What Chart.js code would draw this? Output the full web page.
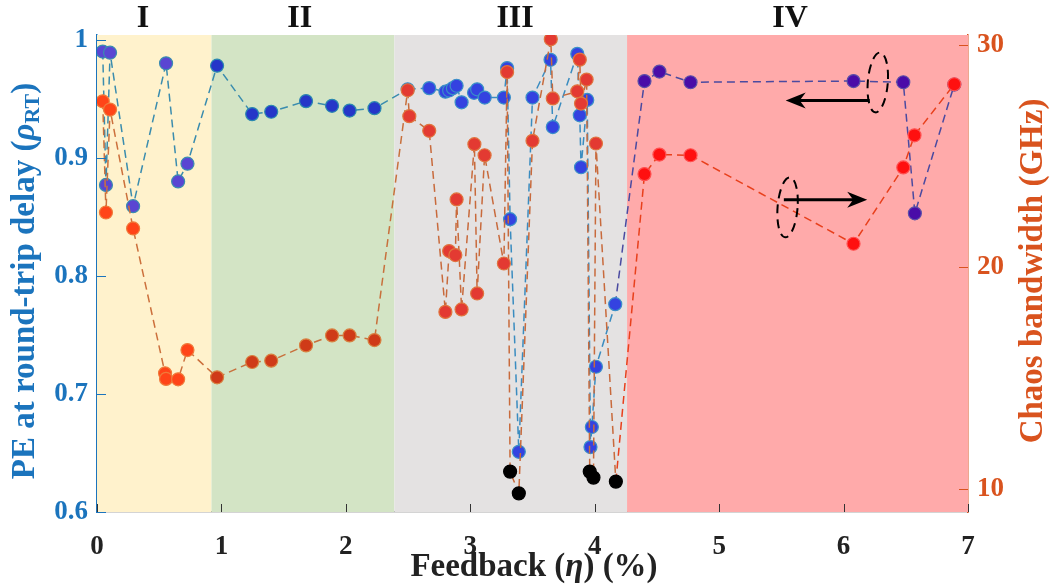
<!DOCTYPE html>
<html>
<head>
<meta charset="utf-8">
<script src="https://cdn.jsdelivr.net/npm/chart.js@4"></script>
<style>
  html, body { margin: 0; padding: 0; background: #fff; }
  #wrap { width: 1051px; height: 585px; }
</style>
</head>
<body>
<div id="wrap"><canvas id="myChart" width="1051" height="585"></canvas></div>
<script>
// feedback regions
const regionBounds = [0, 0.92, 2.39, 4.26, 7];
const regionLabels = ["I", "II", "III", "IV"];
const regionLabelX = [0.37, 1.63, 3.36, 5.57];

// PE at round-trip delay (left axis)
const peX = [0.046, 0.072, 0.105, 0.29, 0.555, 0.652, 0.727, 0.965, 1.247, 1.40, 1.68, 1.889, 2.03, 2.23,
  2.497, 2.67, 2.80, 2.83, 2.86, 2.89, 2.93, 3.03, 3.055, 3.116, 3.27, 3.296, 3.32, 3.39, 3.50, 3.645, 3.663,
  3.86, 3.88, 3.89, 3.94, 3.966, 3.977, 4.01, 4.165, 4.40, 4.52, 4.77, 6.08, 6.48, 6.573, 6.89];
const peY = [0.990, 0.877, 0.989, 0.859, 0.980, 0.880, 0.895, 0.978, 0.937, 0.939, 0.948, 0.944, 0.940, 0.942,
  0.958, 0.959, 0.956, 0.957, 0.959, 0.961, 0.947, 0.955, 0.958, 0.951, 0.951, 0.976, 0.848, 0.651, 0.951, 0.983, 0.926,
  0.988, 0.936, 0.892, 0.949, 0.655, 0.672, 0.723, 0.776, 0.965, 0.973, 0.964, 0.965, 0.964, 0.853, 0.962];

// chaos bandwidth in GHz (right axis)
const bwX = [0.046, 0.072, 0.105, 0.29, 0.547, 0.555, 0.652, 0.727, 0.965, 1.247, 1.40, 1.68, 1.889, 2.03, 2.23,
  2.497, 2.51, 2.67, 2.80, 2.83, 2.88, 2.89, 2.93, 3.033, 3.055, 3.115, 3.27, 3.296, 3.32, 3.39,
  3.50, 3.647, 3.663, 3.86, 3.88, 3.89, 3.935, 3.96, 3.99, 4.01, 4.17, 4.40, 4.52, 4.77, 6.08, 6.48, 6.57, 6.89];
const bwY = [27.46, 22.45, 27.09, 21.73, 15.2, 14.95, 14.93, 16.25, 15.02, 15.71, 15.77, 16.46, 16.91, 16.91, 16.70,
  27.96, 26.79, 26.13, 17.97, 20.71, 20.53, 23.04, 18.08, 25.53, 18.8, 25.03, 20.15, 28.78, 10.77, 9.79,
  25.68, 30.26, 27.59, 27.91, 29.34, 27.36, 28.44, 10.77, 10.5, 25.56, 10.32, 24.18, 25.06, 25.03, 21.04, 24.48, 25.93, 28.23];

const xTicks = [0, 1, 2, 3, 4, 5, 6, 7];
const leftTicks = [0.6, 0.7, 0.8, 0.9, 1];
const rightTicks = [10, 20, 30];

const serif = "'Liberation Serif', 'Times New Roman', serif";
const blueAxis = "#1b74bd";
const redAxis = "#d9531e";

const regionFill = ["#fff2cc", "#d3e4c5", "#e4e2e2", "#ffaaaa"];
const peFill = ["#5a46d2", "#2536c8", "#3442e0", "#4a0ca8"];
const peEdge = ["#3a8cb0", "#2a88b0", "#3a90c8", "#5a50a8"];
const peLine = ["#3a8cae", "#3a8cae", "#3a8cc0", "#4a4aa0"];
const bwFill = ["#ff4418", "#cf3a18", "#e33a32", "#ff1010"];
const bwEdge = ["#f07a3a", "#d88040", "#e0743e", "#ff5050"];
const bwLine = ["#cc703c", "#c8703c", "#c86a3c", "#e8401c"];

function regionOf(x) {
  for (let i = 0; i < regionLabels.length; i++) {
    if (x < regionBounds[i + 1]) return i;
  }
  return regionLabels.length - 1;
}

const pePoints = peX.map((x, i) => ({ x: x, y: peY[i] }));
const bwPoints = bwX.map((x, i) => ({ x: x, y: bwY[i] }));

const backdrop = {
  id: 'backdrop',
  beforeDatasetsDraw(chart) {
    const { ctx, chartArea, scales } = chart;
    ctx.save();
    for (let i = 0; i < regionLabels.length; i++) {
      const a = scales.x.getPixelForValue(regionBounds[i]);
      const b = scales.x.getPixelForValue(regionBounds[i + 1]);
      ctx.fillStyle = regionFill[i];
      ctx.fillRect(a, chartArea.top, b - a, chartArea.bottom - chartArea.top);
      ctx.fillStyle = "#111";
      ctx.font = "bold 32px " + serif;
      ctx.textAlign = "center";
      ctx.textBaseline = "middle";
      ctx.fillText(regionLabels[i], scales.x.getPixelForValue(regionLabelX[i]), 19);
    }
    ctx.restore();
  },
  afterDraw(chart) {
    const { ctx, chartArea, scales } = chart;
    const x = scales.x, yl = scales.y, yr = scales.y2;
    ctx.save();
    // inner tick marks
    ctx.lineWidth = 1;
    ctx.strokeStyle = "#333";
    xTicks.forEach(t => {
      const px = Math.round(x.getPixelForValue(t)) + 0.5;
      ctx.beginPath(); ctx.moveTo(px, chartArea.bottom); ctx.lineTo(px, chartArea.bottom - 8); ctx.stroke();
    });
    ctx.strokeStyle = blueAxis;
    leftTicks.forEach(t => {
      const py = Math.round(yl.getPixelForValue(t)) + 0.5;
      ctx.beginPath(); ctx.moveTo(chartArea.left, py); ctx.lineTo(chartArea.left + 9, py); ctx.stroke();
    });
    ctx.strokeStyle = redAxis;
    rightTicks.forEach(t => {
      const py = Math.round(yr.getPixelForValue(t)) + 0.5;
      ctx.beginPath(); ctx.moveTo(chartArea.right, py); ctx.lineTo(chartArea.right - 9, py); ctx.stroke();
    });

    // arrows and dashed ellipses
    function arrow(x0, x1, yv) {
      const py = yl.getPixelForValue(yv);
      const a = x.getPixelForValue(x0), b = x.getPixelForValue(x1);
      const dir = b > a ? 1 : -1;
      ctx.strokeStyle = "#000";
      ctx.fillStyle = "#000";
      ctx.lineWidth = 3;
      ctx.beginPath(); ctx.moveTo(a, py); ctx.lineTo(b - dir * 12, py); ctx.stroke();
      ctx.beginPath();
      ctx.moveTo(b, py);
      ctx.lineTo(b - dir * 20, py - 8);
      ctx.lineTo(b - dir * 14, py);
      ctx.lineTo(b - dir * 20, py + 8);
      ctx.closePath();
      ctx.fill();
    }
    function ring(xv, yv) {
      ctx.strokeStyle = "#000";
      ctx.lineWidth = 2;
      ctx.setLineDash([9, 6]);
      ctx.beginPath();
      ctx.ellipse(x.getPixelForValue(xv), yl.getPixelForValue(yv), 10, 30, 0.08, 0, Math.PI * 2);
      ctx.stroke();
      ctx.setLineDash([]);
    }
    ring(6.275, 0.9638);
    arrow(6.21, 5.535, 0.9486);
    ring(5.55, 0.858);
    arrow(5.52, 6.19, 0.8644);

    // axis titles
    ctx.fillStyle = blueAxis;
    ctx.textBaseline = "middle";
    ctx.save();
    ctx.translate(25, 281);
    ctx.rotate(-Math.PI / 2);
    const main = "PE at round-trip delay (";
    ctx.font = "bold 33px " + serif;
    const w1 = ctx.measureText(main).width;
    ctx.font = "italic bold 33px " + serif;
    const w2 = ctx.measureText("\u03c1").width;
    ctx.font = "bold 22px " + serif;
    const w3 = ctx.measureText("RT").width;
    ctx.font = "bold 33px " + serif;
    const w4 = ctx.measureText(")").width;
    let cx = -(w1 + w2 + w3 + w4) / 2;
    ctx.textAlign = "left";
    ctx.fillText(main, cx, 0); cx += w1;
    ctx.font = "italic bold 33px " + serif;
    ctx.fillText("\u03c1", cx, 0); cx += w2;
    ctx.font = "bold 22px " + serif;
    ctx.fillText("RT", cx, 8); cx += w3;
    ctx.font = "bold 33px " + serif;
    ctx.fillText(")", cx, 0);
    ctx.restore();

    ctx.save();
    ctx.fillStyle = redAxis;
    ctx.translate(1033, 271);
    ctx.rotate(-Math.PI / 2);
    ctx.font = "bold 33px " + serif;
    ctx.textAlign = "center";
    ctx.fillText("Chaos bandwidth (GHz)", 0, 0);
    ctx.restore();

    ctx.fillStyle = "#222";
    const parts = [["Feedback (", "bold 33px "], ["\u03b7", "italic bold 33px "], [") (%)", "bold 33px "]];
    let tw = 0;
    parts.forEach(p => { ctx.font = p[1] + serif; tw += ctx.measureText(p[0]).width; });
    let sx = 534 - tw / 2;
    ctx.textAlign = "left";
    parts.forEach(p => {
      ctx.font = p[1] + serif;
      ctx.fillText(p[0], sx, 567);
      sx += ctx.measureText(p[0]).width;
    });
    ctx.restore();
  }
};

const ctxEl = document.getElementById('myChart');
new Chart(ctxEl, {
  type: 'line',
  data: {
    datasets: [
      {
        label: "Chaos bandwidth",
        data: bwPoints,
        yAxisID: 'y2',
        borderWidth: 1.5,
        borderDash: [8, 5],
        pointRadius: 6.5,
        pointBorderWidth: 1.2,
        pointBackgroundColor: ctx => {
          const p = ctx.raw;
          if (!p) return "#000";
          return p.y < 12 ? "#000" : bwFill[regionOf(p.x)];
        },
        pointBorderColor: ctx => {
          const p = ctx.raw;
          if (!p) return "#000";
          return p.y < 12 ? "#000" : bwEdge[regionOf(p.x)];
        },
        segment: {
          borderColor: s => bwLine[regionOf((s.p0.parsed.x + s.p1.parsed.x) / 2)]
        },
        borderColor: bwLine[0]
      },
      {
        label: "PE",
        data: pePoints,
        yAxisID: 'y',
        borderWidth: 1.5,
        borderDash: [8, 5],
        pointRadius: 6.5,
        pointBorderWidth: 1.2,
        pointBackgroundColor: ctx => ctx.raw ? peFill[regionOf(ctx.raw.x)] : peFill[0],
        pointBorderColor: ctx => ctx.raw ? peEdge[regionOf(ctx.raw.x)] : peEdge[0],
        segment: {
          borderColor: s => peLine[regionOf((s.p0.parsed.x + s.p1.parsed.x) / 2)]
        },
        borderColor: peLine[0]
      }
    ]
  },
  options: {
    responsive: false,
    animation: false,
    layout: { padding: { top: 35, left: 0, right: 0, bottom: 0 } },
    plugins: {
      legend: { display: false },
      tooltip: { enabled: false }
    },
    scales: {
      x: {
        type: 'linear',
        min: 0,
        max: 7,
        afterBuildTicks: s => { s.ticks = xTicks.map(v => ({ value: v })); },
        afterFit: s => { s.height = 73; },
        grid: { display: false, drawTicks: false },
        border: { display: true, color: "#555", width: 1.2 },
        ticks: {
          color: "#222",
          padding: 19,
          font: { family: serif, size: 27, weight: 'bold' }
        }
      },
      y: {
        position: 'left',
        min: 0.6,
        max: 1.004,
        afterBuildTicks: s => { s.ticks = leftTicks.map(v => ({ value: v })); },
        afterFit: s => { s.width = 97; },
        grid: { display: false, drawTicks: false },
        border: { display: true, color: blueAxis, width: 1.5 },
        ticks: {
          color: blueAxis,
          padding: 9,
          font: { family: serif, size: 27, weight: 'bold' },
          callback: v => String(v)
        }
      },
      y2: {
        position: 'right',
        min: 8.95,
        max: 30.45,
        afterBuildTicks: s => { s.ticks = rightTicks.map(v => ({ value: v })); },
        afterFit: s => { s.width = 83; },
        grid: { display: false, drawTicks: false },
        border: { display: true, color: redAxis, width: 1.5 },
        ticks: {
          color: redAxis,
          padding: 9,
          font: { family: serif, size: 27, weight: 'bold' }
        }
      }
    }
  },
  plugins: [backdrop]
});
</script>
</body>
</html>
